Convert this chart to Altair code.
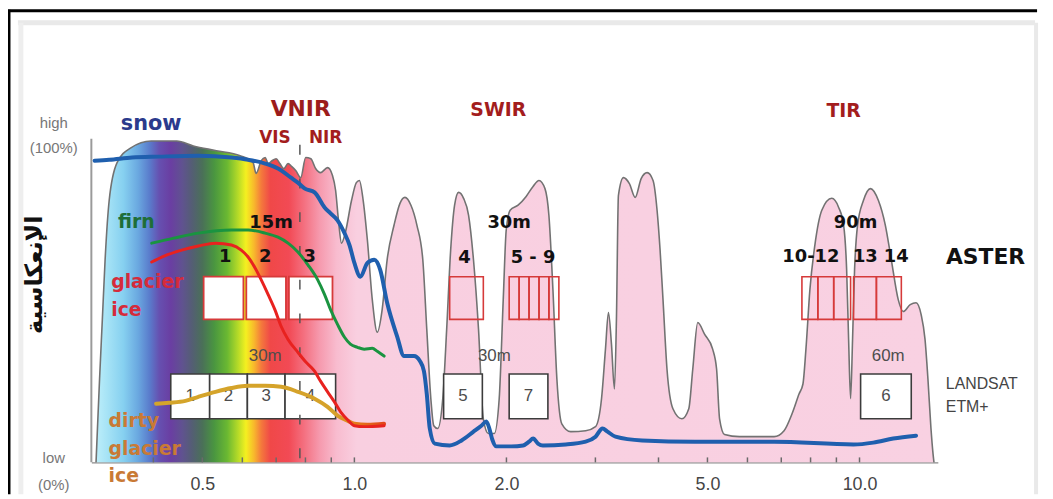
import math
import altair as alt
import pandas as pd

# ---------------- data ----------------
# atmospheric transmission envelope (wavelength in micrometres, relative level in %)
trans_wl = [0.308, 0.310, 0.313, 0.317, 0.321, 0.327, 0.339, 0.361, 0.396, 0.445,
            0.480, 0.533, 0.594, 0.630, 0.639, 0.654, 0.666, 0.675, 0.687, 0.700,
            0.712, 0.725, 0.739, 0.752, 0.766, 0.783, 0.801, 0.820, 0.838, 0.857,
            0.885, 0.905, 0.918, 0.930, 0.943, 0.960, 0.987, 1.009, 1.023, 1.041,
            1.061, 1.085, 1.110, 1.135, 1.161, 1.198, 1.231, 1.259, 1.294, 1.330,
            1.366, 1.391, 1.417, 1.436, 1.462, 1.496, 1.523, 1.551, 1.579, 1.608,
            1.645, 1.683, 1.721, 1.761, 1.800, 1.842, 1.892, 1.935, 1.971, 1.998,
            2.034, 2.109, 2.188, 2.258, 2.320, 2.384, 2.427, 2.472, 2.517, 2.574,
            2.681, 2.870, 3.002, 3.085, 3.141, 3.184, 3.228, 3.272, 3.302, 3.332,
            3.409, 3.503, 3.597, 3.696, 3.798, 3.902, 3.974, 4.029, 4.083, 4.158,
            4.272, 4.449, 4.592, 4.676, 4.784, 4.937, 5.120, 5.213, 5.284, 5.405,
            5.785, 6.776, 7.090, 7.352, 7.590, 7.727, 7.833, 7.976, 8.159, 8.421,
            8.810, 9.093, 9.302, 9.430, 9.515, 9.601, 9.688, 9.777, 9.911, 10.18,
            10.51, 10.90, 11.25, 11.56, 11.93, 12.20, 12.60, 12.94, 13.24, 13.48,
            13.66, 13.85, 13.98, 14.04]
trans_refl = [0, 10.8, 26.6, 45.6, 64.6, 83.5, 95.6, 100.3, 102.5, 102.5,
              100.9, 99.4, 97.8, 95.6, 92.1, 96.2, 97.2, 95.3, 96.2, 96.8,
              95.3, 93.7, 95.3, 94.3, 93.0, 90.8, 97.2, 96.8, 93.7, 92.4,
              94.0, 91.5, 86.7, 77.2, 69.9, 73.4, 83.5, 89.2, 89.9, 83.5,
              70.9, 51.9, 41.5, 48.7, 64.6, 75.6, 82.6, 84.5, 82.0, 75.6,
              64.6, 42.4, 20.3, 11.7, 10.8, 20.3, 42.4, 67.7, 82.0, 86.1,
              84.2, 78.8, 64.6, 42.4, 13.9, 9.2, 9.2, 20.3, 51.9, 74.1,
              80.4, 82.0, 84.8, 88.0, 89.9, 87.3, 78.8, 55.1, 26.6, 12.3,
              9.8, 10.1, 11.4, 20.3, 36.1, 47.8, 37.7, 23.4, 45.6, 85.1,
              90.8, 88.9, 84.5, 90.5, 92.4, 89.9, 80.4, 67.7, 51.9, 29.7,
              17.1, 13.9, 17.1, 29.7, 44.6, 40.8, 36.1, 29.7, 13.9, 8.9,
              8.2, 8.2, 10.1, 15.5, 21.8, 25.0, 36.1, 55.1, 69.3, 80.4,
              84.2, 81.3, 75.6, 61.4, 39.2, 20.3, 39.2, 61.4, 75.6, 83.5,
              87.3, 83.5, 75.6, 64.6, 51.9, 48.1, 50.3, 50.9, 47.2, 39.2,
              26.6, 10.8, 2.8, 0]

# snow reflectance
snow_wl = [0.306, 0.327, 0.363, 0.410, 0.491, 0.571, 0.616, 0.666, 0.706, 0.749,
           0.773, 0.798, 0.834, 0.873, 0.897, 0.926, 0.956, 0.978, 1.000, 1.028,
           1.061, 1.095, 1.125, 1.161, 1.215, 1.254, 1.312, 1.348, 1.373, 1.391,
           1.410, 1.443, 1.544, 1.630, 1.721, 1.784, 1.825, 1.850, 1.875, 1.910,
           2.044, 2.158, 2.217, 2.258, 2.309, 2.362, 2.621, 2.870, 3.002, 3.099,
           3.170, 3.287, 3.713, 4.719, 6.777, 9.732, 10.65, 11.66, 12.94]
snow_refl = [96.2, 96.5, 97.2, 97.5, 97.8, 97.2, 96.5, 95.3, 93.7, 90.8,
             89.2, 87.3, 86.1, 81.3, 79.4, 77.2, 73.1, 69.3, 63.6, 59.2,
             63.6, 64.6, 61.4, 50.9, 40.2, 33.9, 33.9, 32.3, 29.1, 21.8,
             10.8, 6.0, 5.4, 7.0, 9.8, 11.7, 13.0, 10.8, 7.3, 5.1,
             5.1, 5.4, 6.6, 7.6, 6.0, 5.4, 5.7, 6.6, 8.2, 10.8,
             9.8, 8.2, 7.0, 6.6, 6.6, 5.7, 6.3, 7.6, 8.5]

# firn reflectance
firn_wl = [0.397, 0.439, 0.491, 0.571, 0.616, 0.666, 0.706, 0.739, 0.773, 0.809,
           0.846, 0.873, 0.897, 0.926, 0.956, 0.982, 1.014, 1.046, 1.085, 1.110, 1.145]
firn_refl = [69.9, 71.5, 73.1, 74.1, 74.1, 73.1, 71.8, 69.9, 67.1, 63.0,
             58.2, 53.5, 48.7, 44.0, 39.9, 37.7, 36.7, 36.1, 36.4, 35.4, 33.9]

# glacier ice reflectance
ice_wl = [0.397, 0.420, 0.455, 0.491, 0.531, 0.571, 0.597, 0.616, 0.636, 0.654,
          0.675, 0.696, 0.716, 0.739, 0.773, 0.798, 0.834, 0.857, 0.885, 0.913,
          0.939, 0.969, 1.000, 1.046, 1.145]
ice_refl = [63.9, 65.8, 67.7, 69.0, 69.9, 69.3, 67.7, 65.5, 62.0, 58.2,
            53.5, 48.7, 43.4, 39.2, 35.1, 32.3, 29.1, 25.9, 22.5, 19.3,
            16.1, 13.6, 11.7, 11.4, 11.7]

# dirty glacier ice reflectance
dirty_wl = [0.405, 0.429, 0.463, 0.491, 0.531, 0.571, 0.616, 0.666, 0.716, 0.773,
            0.834, 0.885, 0.926, 0.969, 1.000, 1.061, 1.145]
dirty_refl = [18.7, 19.0, 19.6, 20.9, 22.5, 23.7, 24.4, 24.4, 24.1, 22.5,
              20.3, 17.7, 14.9, 13.3, 12.3, 12.0, 12.3]

# ASTER bands (VNIR 1-3, SWIR 4, 5-9, TIR 10-14)
aster_lo = [0.503, 0.611, 0.742, 1.544, 2.025, 2.119, 2.217, 2.320, 2.427,
            7.691, 8.270, 8.890, 9.732, 10.80]
aster_hi = [0.603, 0.732, 0.905, 1.800, 2.119, 2.217, 2.320, 2.427, 2.540,
            8.270, 8.890, 9.601, 10.80, 12.10]
aster_row = [45.6, 59.2]

# LANDSAT ETM+ bands
landsat_names = ["1", "2", "3", "4", "5", "7", "6"]
landsat_lo = [0.433, 0.517, 0.614, 0.729, 1.502, 2.025, 10.05]
landsat_hi = [0.517, 0.614, 0.729, 0.918, 1.792, 2.416, 12.66]
landsat_row = [13.9, 28.2]

# axis ticks / labels
tick_wl = [0.4, 0.5, 0.6, 0.7, 0.8, 0.9, 1.0, 2, 3, 4, 5, 6, 7, 8, 9, 10]
label_wl = [0.5, 1.0, 2.0, 5.0, 10.0]
vis_nir_split = 0.78

# annotations: (text, wavelength, level, style)
annotations = [
    ("snow", 0.396, 107.9, "snow"),
    ("VNIR", 0.783, 112.7, "region_big"),
    ("SWIR", 1.927, 112.3, "region"),
    ("TIR", 9.302, 112.0, "region"),
    ("VIS", 0.696, 103.5, "region_small"),
    ("NIR", 0.877, 103.5, "region_small"),
    ("firn", 0.370, 76.6, "firn"),
    ("glacier", 0.330, 57.6, "ice"),
    ("ice", 0.330, 48.7, "ice"),
    ("dirty", 0.326, 13.3, "dirty"),
    ("glacier", 0.326, 4.4, "dirty"),
    ("ice", 0.326, -4.4, "dirty"),
    ("15m", 0.684, 76.3, "bold"),
    ("1", 0.555, 65.5, "bold"),
    ("2", 0.666, 65.5, "bold"),
    ("3", 0.816, 65.5, "bold"),
    ("30m", 2.025, 76.3, "bold"),
    ("4", 1.652, 65.2, "bold"),
    ("5 - 9", 2.258, 65.2, "bold"),
    ("90m", 9.820, 76.3, "bold"),
    ("10-12", 8.010, 65.5, "bold"),
    ("13", 10.27, 65.5, "bold"),
    ("14", 11.82, 65.5, "bold"),
    ("ASTER", 17.76, 65.5, "aster"),
    ("30m", 0.666, 33.9, "grey"),
    ("30m", 1.892, 33.9, "grey"),
    ("60m", 11.40, 33.9, "grey"),
    ("LANDSAT", 14.82, 25.0, "landsat"),
    ("ETM+", 14.82, 17.7, "landsat"),
    ("high", 0.254, 108.2, "level"),
    ("(100%)", 0.254, 100.3, "level"),
    ("low", 0.254, 1.3, "level"),
    ("(0%)", 0.254, -7.3, "level"),
    ("الإنعكاسية", 0.233, 59.8, "ytitle"),
]

# ---------------- scales ----------------
xs = alt.Scale(type="log", domain=[0.3015, 14.29], nice=False, zero=False)
ys = alt.Scale(domain=[0, 140.5], nice=False, zero=False)

xaxis = alt.Axis(values=label_wl, format=".1f", ticks=False, tickSize=0, grid=False,
                 labelPadding=13, labelFontSize=18, labelFont="Liberation Sans",
                 labelColor="#454545", domainColor="#8a8a8a", domainWidth=1.5,
                 labelFlush=False, labelOverlap=False, title=None)


def XE(field="wl"):
    return alt.X(f"{field}:Q", scale=xs, axis=xaxis, title=None)


def YE(field="refl"):
    return alt.Y(f"{field}:Q", scale=ys, axis=None, title=None)


one = pd.DataFrame({"k": [0]})

# frame / shadow
shadow_top = alt.Chart(one).mark_rule(color="#e9e9e9", strokeWidth=5).encode(
    x=alt.value(-74), x2=alt.value(951), y=alt.value(1))
shadow_left = alt.Chart(one).mark_rule(color="#eeeeee", strokeWidth=5).encode(
    x=alt.value(-71), y=alt.value(1), y2=alt.value(476))
shadow_right = alt.Chart(one).mark_rule(color="#e9e9e9", strokeWidth=4).encode(
    x=alt.value(952), y=alt.value(1), y2=alt.value(476))
frame_left = alt.Chart(one).mark_rule(color="#000000", strokeWidth=3).encode(
    x=alt.value(-83), y=alt.value(-12), y2=alt.value(476))
frame_top = alt.Chart(one).mark_rule(color="#000000", strokeWidth=3).encode(
    x=alt.value(-84), x2=alt.value(953), y=alt.value(-11))


# coloured transmission envelope
def px_off(w):
    lo, hi = math.log10(0.308), math.log10(14.04)
    return (math.log10(w) - lo) / (hi - lo)


rainbow = [
    (0.308, "#bdeefa"), (0.323, "#a8e4f6"), (0.349, "#86d0f0"), (0.373, "#6aa8e0"),
    (0.393, "#5a7ccc"), (0.411, "#6650b0"), (0.433, "#6a3ea2"), (0.456, "#605290"),
    (0.477, "#545e74"), (0.500, "#4a7058"), (0.528, "#4a9640"), (0.560, "#6ab832"),
    (0.588, "#b4da28"), (0.610, "#f4f020"), (0.633, "#f8b82c"), (0.654, "#f47a3c"),
    (0.682, "#f04848"), (0.742, "#f24a55"), (0.795, "#f47080"), (0.854, "#f69aae"),
    (0.922, "#f8bccf"), (1.011, "#f9cfe0"), (14.04, "#f9d1e2"),
]
grad = alt.Gradient(
    gradient="linear",
    stops=[alt.GradientStop(color=c, offset=round(min(max(px_off(w), 0), 1), 4)) for w, c in rainbow],
    x1=0, x2=1, y1=0, y2=0,
)
trans_df = pd.DataFrame({"wl": trans_wl, "refl": trans_refl})
area = alt.Chart(trans_df).mark_area(interpolate="monotone", color=grad).encode(
    x=XE(), y=YE())
outline = alt.Chart(trans_df).mark_line(interpolate="monotone", color="#727272",
                                        strokeWidth=1.6).encode(x=XE(), y=YE())

ticks = alt.Chart(pd.DataFrame({"wl": tick_wl})).mark_rule(color="#6a6a6a", strokeWidth=1.5).encode(
    x=XE(), y=alt.value(444), y2=alt.value(439))
yline = alt.Chart(one).mark_rule(color="#9a9a9a", strokeWidth=2).encode(
    x=alt.value(0), y=alt.value(118), y2=alt.value(444))

# band boxes
aster_df = pd.DataFrame({"lo": aster_lo, "hi": aster_hi,
                         "bottom": aster_row[0], "top": aster_row[1]})
vnir_boxes = alt.Chart(aster_df.iloc[:3]).mark_rect(fill="white", stroke="#d63a3a", strokeWidth=1.8).encode(
    x=XE("lo"), x2="hi:Q", y=YE("bottom"), y2="top:Q")
other_boxes = alt.Chart(aster_df.iloc[3:]).mark_rect(fill="transparent", stroke="#d63a3a", strokeWidth=1.6).encode(
    x=XE("lo"), x2="hi:Q", y=YE("bottom"), y2="top:Q")

landsat_df = pd.DataFrame({"name": landsat_names, "lo": landsat_lo, "hi": landsat_hi,
                           "bottom": landsat_row[0], "top": landsat_row[1]})
landsat_df["wl"] = (landsat_df["lo"] * landsat_df["hi"]) ** 0.5
landsat_df["refl"] = (landsat_df["bottom"] + landsat_df["top"]) / 2
landsat_boxes = alt.Chart(landsat_df).mark_rect(fill="white", stroke="#3c3c3c", strokeWidth=1.6).encode(
    x=XE("lo"), x2="hi:Q", y=YE("bottom"), y2="top:Q")
landsat_nums = alt.Chart(landsat_df).mark_text(font="Liberation Sans", fontSize=17, color="#4d4d4d",
                                               align="center", baseline="middle").encode(
    x=XE(), y=YE(), text="name:N")

dash = alt.Chart(pd.DataFrame({"wl": [vis_nir_split], "lo": [1.3], "hi": [103.0]})).mark_rule(
    color="#555555", strokeWidth=1.5, strokeDash=[10, 24]).encode(x=XE(), y=YE("lo"), y2="hi:Q")


def curve(wl, refl, **kw):
    df = pd.DataFrame({"wl": wl, "refl": refl})
    return alt.Chart(df).mark_line(interpolate="monotone", strokeCap="round",
                                   strokeJoin="round", **kw).encode(x=XE(), y=YE())


dirty_grad = alt.Gradient(
    gradient="linear",
    stops=[alt.GradientStop(color="#d4a52a", offset=0),
           alt.GradientStop(color="#d6a22a", offset=0.78),
           alt.GradientStop(color="#e47a1a", offset=0.88),
           alt.GradientStop(color="#e2461a", offset=1)],
    x1=0, x2=1, y1=0, y2=0,
)
dirty_line = curve(dirty_wl, dirty_refl, color=dirty_grad, strokeWidth=4)
ice_line = curve(ice_wl, ice_refl, color="#e8221f", strokeWidth=3)
firn_line = curve(firn_wl, firn_refl, color="#1a9440", strokeWidth=3)
snow_line = curve(snow_wl, snow_refl, color="#1f5fae", strokeWidth=4)

styles = {
    "snow": dict(font="DejaVu Sans", fontWeight="bold", fontSize=21, color="#2b3a8c"),
    "region_big": dict(font="DejaVu Sans", fontWeight="bold", fontSize=22, color="#9c1c1c"),
    "region": dict(font="DejaVu Sans", fontWeight="bold", fontSize=19, color="#a31d1d"),
    "region_small": dict(font="DejaVu Sans", fontWeight="bold", fontSize=17, color="#a31d1d"),
    "firn": dict(font="DejaVu Sans", fontWeight="bold", fontSize=19, color="#1e6e37"),
    "ice": dict(font="DejaVu Sans", fontWeight="bold", fontSize=19, color="#d52b3b", align="left"),
    "dirty": dict(font="DejaVu Sans", fontWeight="bold", fontSize=19, color="#c97a35", align="left"),
    "bold": dict(font="DejaVu Sans", fontWeight="bold", fontSize=18, color="#111111"),
    "aster": dict(font="DejaVu Sans", fontWeight="bold", fontSize=22, color="#111111"),
    "grey": dict(font="Liberation Sans", fontSize=17, color="#4d4d4d"),
    "landsat": dict(font="Liberation Sans", fontSize=16, color="#444444", align="left"),
    "level": dict(font="Liberation Sans", fontSize=15, color="#777777"),
    "ytitle": dict(font="DejaVu Sans", fontWeight="bold", fontSize=24, color="#111111", angle=270),
}
ann_df = pd.DataFrame(annotations, columns=["label", "wl", "refl", "style"])
text_layers = []
for name, st in styles.items():
    kw = dict(align="center", baseline="middle")
    kw.update(st)
    sub = ann_df[ann_df["style"] == name]
    text_layers.append(alt.Chart(sub).mark_text(**kw).encode(x=XE(), y=YE(), text="label:N"))

chart = alt.layer(
    shadow_top, shadow_left, shadow_right,
    area, outline, ticks, yline,
    vnir_boxes, other_boxes, landsat_boxes, landsat_nums,
    dash,
    dirty_line, ice_line, firn_line, snow_line,
    *text_layers,
    frame_left, frame_top,
).properties(
    width=853, height=444,
    autosize=alt.AutoSizeParams(type="none"),
    padding={"left": 84, "top": 12, "right": 108, "bottom": 31},
    background="white",
).configure_view(stroke=None)

chart.save("out.html", embed_options={"renderer": "svg", "actions": False})
